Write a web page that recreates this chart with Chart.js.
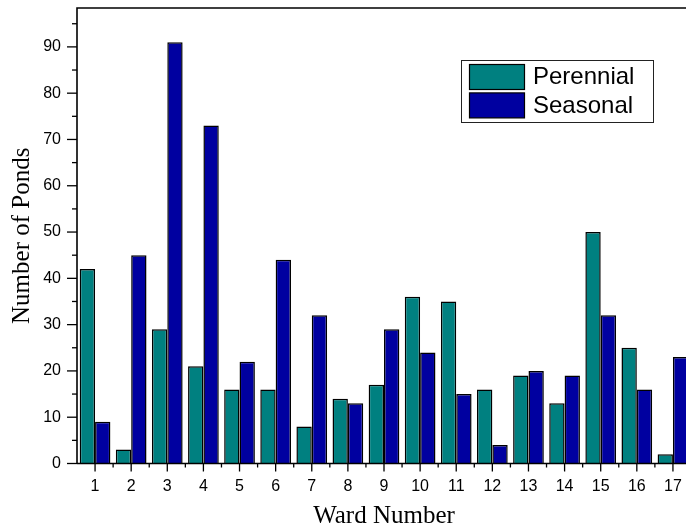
<!DOCTYPE html>
<html>
<head>
<meta charset="utf-8">
<script src="https://cdn.jsdelivr.net/npm/chart.js@4.4.1/dist/chart.umd.min.js"></script>
<style>
  html, body { margin: 0; padding: 0; background: #fff; overflow: hidden; }
  #wrap { width: 686px; height: 526px; overflow: hidden; position: relative; }
  canvas { display: block; }
</style>
</head>
<body>
<div id="wrap"><canvas id="c" width="700" height="526"></canvas></div>
<script>
// Ponds per ward
const wards = ['1','2','3','4','5','6','7','8','9','10','11','12','13','14','15','16','17'];
const perennial = [42, 3, 29, 21, 16, 16, 8, 14, 17, 36, 35, 16, 19, 13, 50, 25, 2];
const seasonal  = [9, 45, 91, 73, 22, 44, 32, 13, 29, 24, 15, 4, 20, 19, 32, 16, 23];
const yMajorTicks = [0, 10, 20, 30, 40, 50, 60, 70, 80, 90];
const yMinorTicks = [5, 15, 25, 35, 45, 55, 65, 75, 85, 95];

const SANS = "'Liberation Sans', Arial, sans-serif";
const SERIF = "'Liberation Serif', 'Times New Roman', serif";

// Frame, tick marks and boxed legend
const framePlugin = {
  id: 'frame',
  afterDraw(chart) {
    const { ctx, chartArea: a, scales: { x, y } } = chart;
    const seg = (x1, y1, x2, y2) => { ctx.beginPath(); ctx.moveTo(x1, y1); ctx.lineTo(x2, y2); ctx.stroke(); };
    ctx.save();
    ctx.strokeStyle = '#000';
    ctx.lineWidth = 1.6;
    ctx.beginPath();
    ctx.moveTo(a.left, a.bottom);
    ctx.lineTo(a.left, a.top);
    ctx.lineTo(a.right, a.top);
    ctx.lineTo(a.right, a.bottom);
    ctx.lineTo(a.left, a.bottom);
    ctx.stroke();

    ctx.lineWidth = 1.3;
    yMajorTicks.forEach(v => { const p = y.getPixelForValue(v); seg(a.left - 10, p, a.left, p); });
    yMinorTicks.forEach(v => { const p = y.getPixelForValue(v); seg(a.left - 5, p, a.left, p); });
    const n = wards.length;
    for (let i = 0; i < n; i++) {
      const p = x.getPixelForValue(i);
      seg(p, a.bottom, p, a.bottom + 8);
      if (i < n - 1) {
        const b = (p + x.getPixelForValue(i + 1)) / 2;
        seg(b, a.bottom, b, a.bottom + 4);
      }
    }

    // legend box
    const lx = 461, ly = 60, lw = 192, lh = 62;
    ctx.fillStyle = '#fff';
    ctx.fillRect(lx, ly, lw, lh);
    ctx.strokeStyle = '#222';
    ctx.lineWidth = 1;
    ctx.strokeRect(lx + 0.5, ly + 0.5, lw, lh);
    ctx.font = '24px ' + SANS;
    ctx.textBaseline = 'middle';
    ctx.textAlign = 'left';
    chart.data.datasets.forEach((ds, i) => {
      const sy = ly + 4.5 + i * 28.4;
      ctx.fillStyle = ds.backgroundColor;
      ctx.fillRect(469.5, sy, 55, 25);
      ctx.strokeStyle = '#000';
      ctx.lineWidth = 1.2;
      ctx.strokeRect(469.5, sy, 55, 25);
      ctx.fillStyle = '#000';
      ctx.fillText(ds.label, 533, sy + 13);
    });
    ctx.restore();
  }
};

new Chart(document.getElementById('c'), {
  type: 'bar',
  data: {
    labels: wards,
    datasets: [
      { label: 'Perennial', data: perennial, backgroundColor: '#008080', borderColor: '#000', borderWidth: 1.5 },
      { label: 'Seasonal',  data: seasonal,  backgroundColor: '#0000A0', borderColor: '#000', borderWidth: 1.5 }
    ]
  },
  options: {
    responsive: false,
    animation: false,
    layout: { padding: { left: 0, top: 8, right: 9, bottom: 0 } },
    datasets: { bar: { categoryPercentage: 0.85, barPercentage: 1.0 } },
    plugins: { legend: { display: false }, tooltip: { enabled: false } },
    scales: {
      x: {
        grid: { display: false, drawTicks: false },
        border: { display: false },
        ticks: { color: '#000', font: { family: SANS, size: 16 }, padding: 13, maxRotation: 0 },
        title: { display: true, text: 'Ward Number', color: '#000',
                 font: { family: SERIF, size: 25 }, padding: { top: 0, bottom: -5 } },
        afterFit(scale) {
          scale.height = 62.5;
          scale.paddingLeft = 0;
          scale.paddingRight = 0;
        }
      },
      y: {
        min: 0,
        max: 98.4,
        grid: { display: false, drawTicks: false },
        border: { display: false },
        afterBuildTicks(scale) { scale.ticks = yMajorTicks.map(v => ({ value: v })); },
        ticks: { color: '#000', font: { family: SANS, size: 16 }, padding: 16 },
        title: { display: true, text: 'Number of Ponds', color: '#000',
                 font: { family: SERIF, size: 25 }, padding: { top: 7, bottom: 0 } },
        afterFit(scale) {
          scale.width = 77;
          scale.paddingTop = 0;
          scale.paddingBottom = 0;
        }
      }
    }
  },
  plugins: [framePlugin]
});
</script>
</body>
</html>
